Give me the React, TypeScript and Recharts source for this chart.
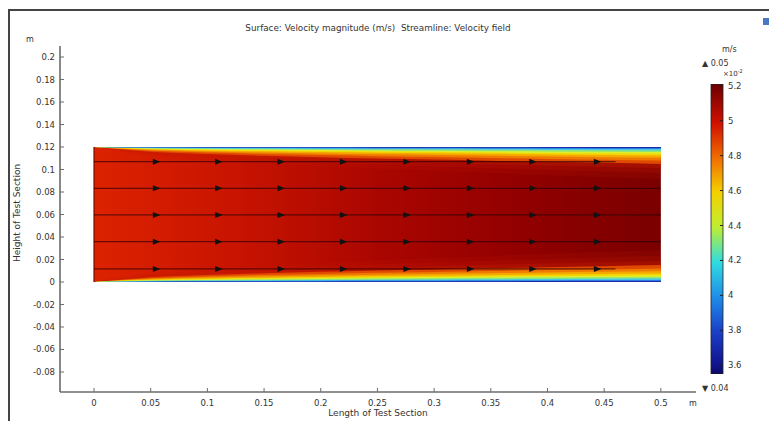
import {
  Area,
  Bar,
  BarChart,
  ComposedChart,
  Line,
  ReferenceLine,
  Scatter,
  XAxis,
  YAxis
} from "recharts";

const xStations = [0, 0.05, 0.1, 0.15, 0.2, 0.25, 0.3, 0.35, 0.4, 0.45, 0.5];
const layerThickness = [0, 0.0042, 0.0062, 0.0077, 0.009, 0.0102, 0.0112, 0.0122, 0.0132, 0.0141, 0.015];
const channelWalls = [0, 0.12];

// contour levels of the wall layer, outermost first
const bandFractions = [1.9, 1.55, 1.25, 1.0, 0.8, 0.64, 0.5, 0.4, 0.3, 0.2, 0.12, 0.06];

const streamlineYs = [0.0116, 0.0358, 0.0596, 0.0833, 0.107];
const streamlineEnds = [0.46, 0.5, 0.5, 0.5, 0.46];
const arrowXs = [0.055, 0.11, 0.165, 0.22, 0.276, 0.332, 0.387, 0.444];

const xTicks = [0, 0.05, 0.1, 0.15, 0.2, 0.25, 0.3, 0.35, 0.4, 0.45, 0.5];
const yTicks = [-0.08, -0.06, -0.04, -0.02, 0, 0.02, 0.04, 0.06, 0.08, 0.1, 0.12, 0.14, 0.16, 0.18, 0.2];
const barTicks = [3.6, 3.8, 4, 4.2, 4.4, 4.6, 4.8, 5, 5.2];
const colorRange = [3.55, 5.21];

const bandFills = [
  "#c41a00", "#c41a00", "#c82000",
  "#e04a00", "#ee7a00", "#f4a800", "#f6d400", "#dcee30", "#8ee47a", "#44c8e8", "#2a78e0", "#1a2aa8"
];
const bandOpacity = [0.15, 0.2, 0.3, 1, 1, 1, 1, 1, 1, 1, 1, 1];

const font = "DejaVu Sans";
const tickStyle = { fill: "#333", fontSize: 8.5, fontFamily: font };
const frame = "#6b6b6b";

const fieldRows = xStations.map((x, i) => {
  const row: Record<string, number | number[]> = { x, core: [channelWalls[0], channelWalls[1]] };
  bandFractions.forEach((f, k) => {
    const d = layerThickness[i] * f;
    row[`top${k}`] = [channelWalls[1] - d, channelWalls[1]];
    row[`bot${k}`] = [channelWalls[0], channelWalls[0] + d];
  });
  return row;
});

const streamlines = streamlineYs.map((y, i) => [
  { x: 0, y },
  { x: streamlineEnds[i], y }
]);

const arrowPoints = streamlineYs.flatMap((y) => arrowXs.map((x) => ({ x, y })));

const colorRows = [{ name: "speed", span: colorRange }];

const fmt = (v: number) => String(+v.toFixed(3));

function Arrow(props: { cx?: number; cy?: number }) {
  const { cx = 0, cy = 0 } = props;
  return <path d={`M${cx - 3.5},${cy - 3} L${cx + 4},${cy} L${cx - 3.5},${cy + 3} Z`} fill="#111" />;
}

export default function App() {
  return (
    <div
      style={{
        position: "absolute",
        left: 0,
        top: 0,
        width: 769,
        height: 421,
        background: "#fff",
        fontFamily: font
      }}
    >
      <div style={{ position: "absolute", left: 0, top: 0 }}>
        <ComposedChart
          width={769}
          height={421}
          data={fieldRows}
          margin={{ top: 46, right: 73, bottom: 9, left: 0 }}
        >
          <defs>
            <linearGradient id="coreX" x1="0" y1="0" x2="1" y2="0">
              <stop offset="0" stopColor="#dc2200" />
              <stop offset="0.25" stopColor="#c81400" />
              <stop offset="0.5" stopColor="#aa0600" />
              <stop offset="0.75" stopColor="#920000" />
              <stop offset="1" stopColor="#7a0000" />
            </linearGradient>
          </defs>
          <XAxis
            dataKey="x"
            type="number"
            domain={[-0.03, 0.531]}
            ticks={xTicks}
            tickFormatter={fmt}
            allowDataOverflow
            height={20}
            tick={tickStyle}
            tickSize={-4}
            tickMargin={12}
            stroke={frame}
            axisLine={{ stroke: frame, strokeWidth: 1.6 }}
          />
          <XAxis
            xAxisId="top"
            dataKey="x"
            type="number"
            orientation="top"
            domain={[-0.03, 0.531]}
            ticks={xTicks}
            allowDataOverflow
            height={0}
            tick={false}
            tickSize={-4}
            stroke={frame}
            axisLine={{ stroke: frame, strokeWidth: 1.6 }}
          />
          <YAxis
            type="number"
            domain={[-0.0978, 0.2098]}
            ticks={yTicks}
            tickFormatter={fmt}
            allowDataOverflow
            width={60}
            tick={tickStyle}
            tickSize={-4}
            tickMargin={9}
            stroke={frame}
            axisLine={{ stroke: frame, strokeWidth: 1.6 }}
          />
          <YAxis
            yAxisId="right"
            type="number"
            orientation="right"
            domain={[-0.0978, 0.2098]}
            ticks={yTicks}
            allowDataOverflow
            width={0}
            tick={false}
            tickSize={-4}
            stroke={frame}
            axisLine={{ stroke: frame, strokeWidth: 1.6 }}
          />
          <Area
            dataKey="core"
            type="linear"
            stroke="none"
            fill="url(#coreX)"
            fillOpacity={1}
            isAnimationActive={false}
          />
          {bandFractions.map((_, k) => (
            <Area
              key={`t${k}`}
              dataKey={`top${k}`}
              type="monotone"
              stroke="none"
              fill={bandFills[k]}
              fillOpacity={bandOpacity[k]}
              isAnimationActive={false}
            />
          ))}
          {bandFractions.map((_, k) => (
            <Area
              key={`b${k}`}
              dataKey={`bot${k}`}
              type="monotone"
              stroke="none"
              fill={bandFills[k]}
              fillOpacity={bandOpacity[k]}
              isAnimationActive={false}
            />
          ))}
          <ReferenceLine
            segment={[
              { x: xStations[0], y: channelWalls[0] },
              { x: xStations[0], y: channelWalls[1] }
            ]}
            stroke="#7a0a00"
            strokeWidth={1.2}
          />
          {streamlines.map((pts, i) => (
            <Line
              key={`s${i}`}
              data={pts}
              dataKey="y"
              type="linear"
              stroke="#2a0000"
              strokeOpacity={0.65}
              strokeWidth={1.2}
              dot={false}
              activeDot={false}
              isAnimationActive={false}
            />
          ))}
          <Scatter data={arrowPoints} dataKey="y" shape={<Arrow />} isAnimationActive={false} />
        </ComposedChart>
      </div>

      <div style={{ position: "absolute", left: 700, top: 0 }}>
        <BarChart
          width={69}
          height={421}
          data={colorRows}
          barCategoryGap={0}
          margin={{ top: 84, right: 6, bottom: 47, left: 11 }}
        >
          <defs>
            <linearGradient id="cbar" x1="0" y1="0" x2="0" y2="1">
              <stop offset="0" stopColor="#6a0000" />
              <stop offset="0.134" stopColor="#d01000" />
              <stop offset="0.252" stopColor="#f06a00" />
              <stop offset="0.372" stopColor="#f5d000" />
              <stop offset="0.493" stopColor="#c0ee30" />
              <stop offset="0.614" stopColor="#30dce0" />
              <stop offset="0.734" stopColor="#1e8ee8" />
              <stop offset="0.852" stopColor="#1a40c8" />
              <stop offset="0.972" stopColor="#10128a" />
              <stop offset="1" stopColor="#0a0a60" />
            </linearGradient>
          </defs>
          <XAxis dataKey="name" hide height={0} />
          <YAxis
            orientation="right"
            type="number"
            domain={colorRange}
            ticks={barTicks}
            tickFormatter={fmt}
            allowDataOverflow
            width={40}
            tick={{ ...tickStyle, textAnchor: "start" }}
            axisLine={false}
            tickSize={-3}
            tickMargin={8}
            stroke="#222"
          />
          <Bar dataKey="span" fill="url(#cbar)" stroke="#222" strokeWidth={0.8} isAnimationActive={false} />
        </BarChart>
      </div>

      <svg
        width={769}
        height={421}
        style={{ position: "absolute", left: 0, top: 0, pointerEvents: "none" }}
        fontFamily={font}
        fill="#333"
      >
        <line x1={8} y1={10} x2={769} y2={10} stroke="#444" strokeWidth={2} />
        <line x1={9} y1={10} x2={9} y2={421} stroke="#444" strokeWidth={2} />
        <rect x={763} y={18} width={6} height={7} fill="#4a78c0" />
        <text x={378} y={31} fontSize={8.8} textAnchor="middle">
          {"Surface: Velocity magnitude (m/s)\u00a0\u00a0Streamline: Velocity field"}
        </text>
        <text x={30} y={42} fontSize={8} textAnchor="middle">m</text>
        <text x={693} y={406} fontSize={8} textAnchor="middle">m</text>
        <text x={378} y={416} fontSize={9} textAnchor="middle">Length of Test Section</text>
        <text x={20} y={213} fontSize={9} textAnchor="middle" transform="rotate(-90 20 213)">
          Height of Test Section
        </text>
        <text x={722} y={52} fontSize={8}>m/s</text>
        <text x={702} y={66} fontSize={8}>▲ 0.05</text>
        <text x={723} y={76} fontSize={7}>
          ×10<tspan fontSize={5} dy={-3}>-2</tspan>
        </text>
        <text x={702} y={391} fontSize={8}>▼ 0.04</text>
      </svg>
    </div>
  );
}
